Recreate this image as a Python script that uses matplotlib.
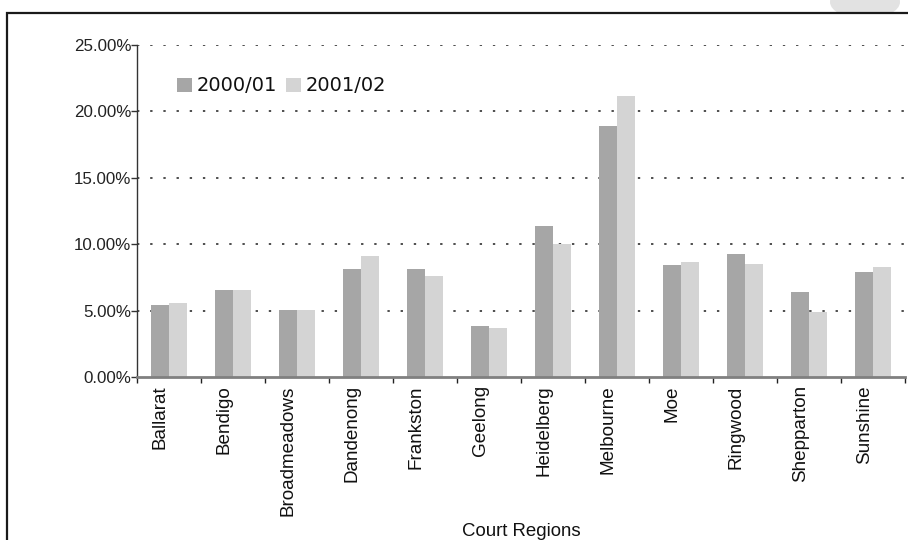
import matplotlib
matplotlib.use("Agg")
import matplotlib.pyplot as plt
import numpy as np
from matplotlib.patches import Rectangle, Ellipse
from matplotlib.ticker import FuncFormatter, FixedLocator

# Share of cases by court region
regions = ["Ballarat", "Bendigo", "Broadmeadows", "Dandenong", "Frankston",
           "Geelong", "Heidelberg", "Melbourne", "Moe", "Ringwood",
           "Shepparton", "Sunshine"]
share_2000_01 = [5.42, 6.55, 5.05, 8.13, 8.13, 3.84, 11.37, 18.90, 8.43, 9.26, 6.40, 7.91]
share_2001_02 = [5.57, 6.55, 5.05, 9.11, 7.61, 3.69, 10.02, 21.16, 8.66, 8.51, 4.89, 8.28]
series_labels = ["2000/01", "2001/02"]
y_ticks = [0, 5, 10, 15, 20, 25]

plt.rcParams["font.family"] = ["Liberation Sans", "DejaVu Sans"]

W, H = 908, 540
fig = plt.figure(figsize=(W / 100, H / 100), dpi=100)
fig.patch.set_facecolor("white")

# outer frame and faint logo in the corner
fig.add_artist(Ellipse((865 / W, 1 - 2 / H), 70 / W, 34 / H,
                       transform=fig.transFigure, facecolor="#e2e2e2",
                       edgecolor="none", zorder=0))
fig.add_artist(Rectangle((7 / W, -0.1), 1.2, 1 - 13 / H + 0.1,
                         transform=fig.transFigure, fill=True,
                         facecolor="white", edgecolor="#1a1a1a", lw=1.6,
                         zorder=1))

ax = fig.add_axes([137 / W, (H - 377) / H, (905 - 137) / W, (377 - 45) / H])
ax.set_zorder(2)
ax.patch.set_alpha(0)

x = np.arange(len(regions))
bw = 0.28
dark, light = "#a6a6a6", "#d4d4d4"
ax.bar(x - bw / 2, share_2000_01, bw, color=dark, label=series_labels[0], zorder=3)
ax.bar(x + bw / 2, share_2001_02, bw, color=light, label=series_labels[1], zorder=3)

ax.set_xlim(-0.5, len(regions) - 0.5)
ax.set_ylim(0, 25)

# dotted horizontal gridlines
for v in y_ticks[1:]:
    ax.axhline(v, color="#404040", lw=1.3, linestyle=(0, (1.3, 6.0)), zorder=1)

ax.yaxis.set_major_locator(FixedLocator(y_ticks))
ax.yaxis.set_major_formatter(FuncFormatter(lambda v, p: f"{v:.2f}%"))
ax.tick_params(axis="y", direction="out", length=4, width=1, color="#333333",
               pad=0, labelsize=12.2, labelcolor="#222222")

ax.set_xticks(x)
ax.set_xticklabels(regions, rotation=90, ha="right", va="top",
                   fontsize=13.6, color="#111111")
ax.set_xticks(np.arange(len(regions) + 1) - 0.5, minor=True)
ax.tick_params(axis="x", which="major", length=0, pad=6)
ax.tick_params(axis="x", which="minor", direction="out", length=4, width=1,
               color="#222222")

for s in ["top", "right"]:
    ax.spines[s].set_visible(False)
ax.spines["left"].set_color("#333333")
ax.spines["left"].set_linewidth(1.0)
ax.spines["bottom"].set_color("#808080")
ax.spines["bottom"].set_linewidth(2.0)
ax.spines["bottom"].set_zorder(4)

ax.set_xlabel("Court Regions", fontsize=13.4, color="#111111", va="center")
ax.xaxis.set_label_coords(0.5, (377 - 532) / 332)

leg = ax.legend(loc="center left", bbox_to_anchor=((177 - 137) / 768, (377 - 86) / 332),
                ncol=2, frameon=False,
                prop={"family": "DejaVu Sans", "size": 14}, borderpad=0,
                borderaxespad=0, handlelength=0.76, handleheight=0.76,
                handletextpad=0.25, columnspacing=0.45)
for t in leg.get_texts():
    t.set_color("#111111")

fig.savefig("out.png", dpi=100)
